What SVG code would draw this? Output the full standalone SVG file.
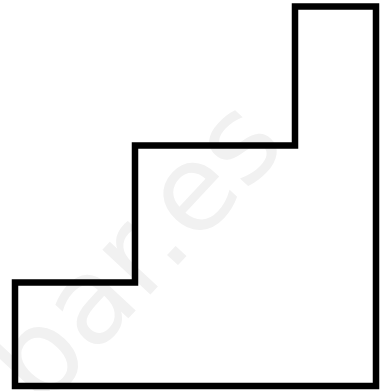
<svg xmlns="http://www.w3.org/2000/svg" width="382" height="391" viewBox="0 0 382 391">
<style>
.wm{font-family:"DejaVu Sans",Verdana,sans-serif;font-size:120px;fill:#f1f1f1}
.stair{fill:none;stroke:#000;stroke-width:6.5;stroke-linejoin:miter}
</style>
<rect width="382" height="391" fill="#fff"/>
<text class="wm" transform="translate(41,412) rotate(-47)">bar.es</text>
<g id="stair">
<path class="stair" d="M15,386 L15,282.5 L135,282.5 L135,145.5 L295,145.5 L295,6.5 L376,6.5 L376,386 Z"/>
</g>
</svg>
